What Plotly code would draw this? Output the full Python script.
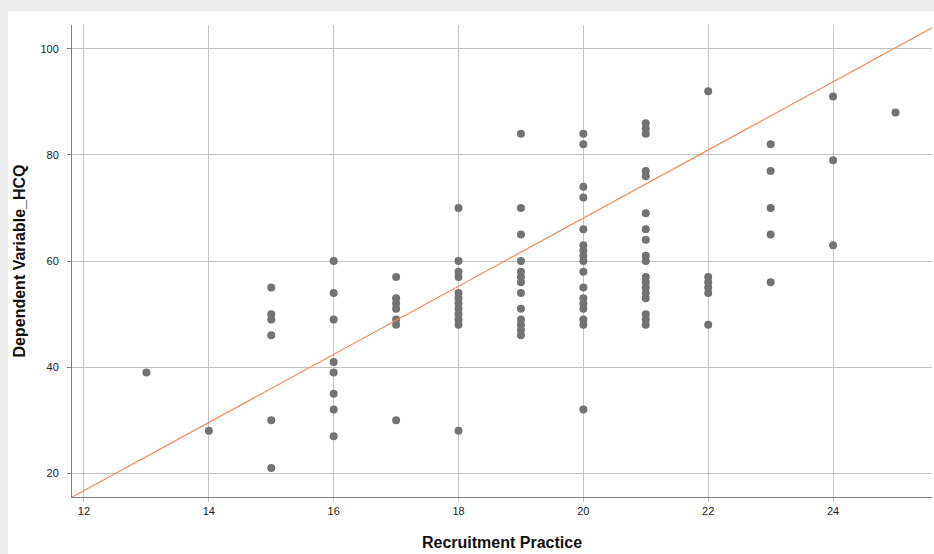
import plotly.graph_objects as go

# Data (x = Recruitment Practice, y = Dependent Variable_HCQ)
x13 = [13]; y13 = [39]
x14 = [14]; y14 = [28]
y15 = [55, 50, 49, 46, 30, 21]
y16 = [60, 54, 49, 41, 39, 35, 32, 27]
y17 = [57, 53, 52, 51, 49, 48, 30]
y18 = [70, 60, 58, 57, 54, 53, 52, 51, 50, 49, 48, 28]
y19 = [84, 70, 65, 60, 58, 57, 56, 54, 51, 49, 48, 47, 46]
y20 = [84, 82, 74, 72, 66, 63, 62, 61, 60, 58, 55, 53, 52, 51, 49, 48, 32]
y21 = [86, 85, 84, 77, 76, 69, 66, 64, 61, 60, 57, 56, 55, 54, 53, 50, 49, 48]
y22 = [92, 57, 56, 55, 54, 48]
y23 = [82, 77, 70, 65, 56]
y24 = [91, 79, 63]
y25 = [88]

groups = {13: y13, 14: y14, 15: y15, 16: y16, 17: y17, 18: y18, 19: y19,
          20: y20, 21: y21, 22: y22, 23: y23, 24: y24, 25: y25}

xs, ys = [], []
for k, vals in groups.items():
    xs += [k] * len(vals)
    ys += vals

# Fit line coefficients
fit_intercept = -60.3
fit_slope = 6.42

x_range = [11.808, 25.585]
y_range = [15.53, 104.5]

x_ticks = [12, 14, 16, 18, 20, 22, 24]
y_ticks = [20, 40, 60, 80, 100]

fig = go.Figure()
fig.add_trace(go.Scatter(
    x=xs, y=ys, mode="markers",
    marker=dict(color="#737373", size=8, line=dict(width=0)),
    hoverinfo="x+y", showlegend=False))

fit_x = x_range
fit_y = [fit_intercept + fit_slope * v for v in fit_x]
fig.add_trace(go.Scatter(
    x=fit_x, y=fit_y, mode="lines",
    line=dict(color="#F28A5C", width=1.2),
    hoverinfo="skip", showlegend=False))

W, H = 934, 554
ml, mr, mt, mb = 72, 2, 25, 57
pw, ph = W - ml - mr, H - mt - mb


def px_x(p):
    return (p - ml) / pw


def px_y(p):
    return 1 - (p - mt) / ph


# white panel over light-gray frame
fig.add_shape(type="rect", xref="paper", yref="paper",
              x0=px_x(8), x1=px_x(W + 5), y0=px_y(H + 5), y1=px_y(11),
              fillcolor="white", line=dict(width=0), layer="below")

fig.update_layout(
    width=W, height=H,
    margin=dict(l=ml, r=mr, t=mt, b=mb),
    paper_bgcolor="#eeeeee",
    plot_bgcolor="white",
    font=dict(family="Liberation Sans, Arial, sans-serif", color="#222222", size=11),
    xaxis=dict(
        range=x_range, tickvals=x_ticks, showgrid=True, gridcolor="#c2c2c2", gridwidth=1,
        zeroline=False, showline=True, linecolor="#7f7f7f", linewidth=1,
        ticks="outside", ticklen=4, tickcolor="#c2c2c2",
        tickfont=dict(size=11, color="#222222"),
        title=dict(text="<b>Recruitment Practice</b>", font=dict(size=16, color="#111111"),
                   standoff=20)),
    yaxis=dict(
        range=y_range, tickvals=y_ticks, showgrid=True, gridcolor="#c2c2c2", gridwidth=1,
        zeroline=False, showline=True, linecolor="#7f7f7f", linewidth=1,
        ticks="outside", ticklen=4, tickcolor="#7f7f7f",
        tickfont=dict(size=11, color="#222222"), ticklabelstandoff=6,
        title=dict(text="<b>Dependent Variable_HCQ</b>", font=dict(size=16, color="#111111"),
                   standoff=10)),
)

fig.write_html("out.html")
